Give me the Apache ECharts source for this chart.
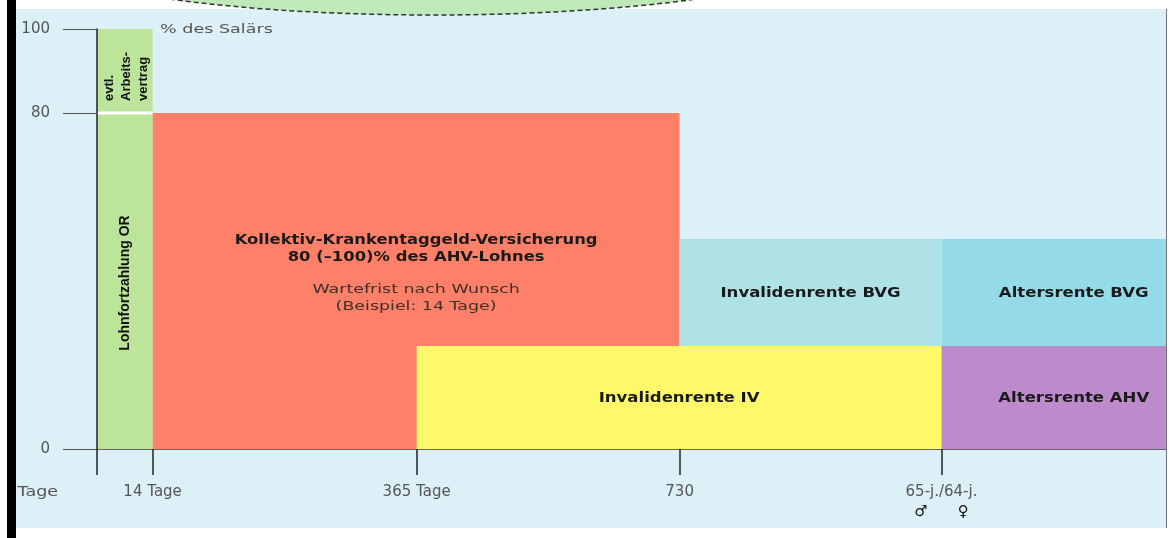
<!DOCTYPE html>
<html><head><meta charset="utf-8">
<script src="https://cdn.jsdelivr.net/npm/echarts@6/dist/echarts.min.js"></script>
<style>
html,body{margin:0;padding:0;background:#fff;}
#wrap{position:relative;width:1169px;height:538px;overflow:hidden;}
#panel{position:absolute;left:16px;top:9px;width:1150px;height:519px;background:#dcf1f7;border-right:1px solid #777;}
#stripe{position:absolute;left:7px;top:0;width:9px;height:538px;background:#000;}
#chart{position:absolute;left:0;top:0;width:1169px;height:538px;}
</style></head><body>
<div id="wrap"><div id="panel"></div><div id="stripe"></div><div id="chart"></div></div>
<script>
// schematic time line (0 = start, 100 = right end of the diagram)
const xTickLabels = ['Tage', '14 Tage', '365 Tage', '730', '65-j./64-j.'];
const xTickValues = [0, 5.2, 29.9, 54.5, 79.0];
const xMax = 100;
// % des Salärs
const yTickValues = [0, 80, 100];

const blockNames = [
  'evtl.\nArbeits-\nvertrag',
  'Lohnfortzahlung OR',
  'Kollektiv-Krankentaggeld-Versicherung\n80 (–100)% des AHV-Lohnes',
  'Invalidenrente IV',
  'Invalidenrente BVG',
  'Altersrente BVG',
  'Altersrente AHV'
];
const blockNotes = ['', '', 'Wartefrist nach Wunsch\n(Beispiel: 14 Tage)', '', '', '', ''];
const blockFrom = [0, 0, 5.2, 29.9, 54.5, 79.0, 79.0];
const blockTo   = [5.2, 5.2, 54.5, 79.0, 79.0, 100, 100];
const blockLow  = [80, 0, 0, 0, 24.5, 24.5, 0];
const blockHigh = [100, 80, 80, 24.5, 50, 50, 24.5];

const blockColors = ['#bde49b', '#bde49b', '#fe8068', '#fff96a', '#aee2e7', '#95dae7', '#bd8bcb'];
const LABEL_FONT = '"DejaVu Sans", "Liberation Sans", sans-serif';
const NARROW_FONT = '"Liberation Sans Narrow", "Liberation Sans", sans-serif';

const data = blockNames.map((n, i) => [blockFrom[i], blockTo[i], blockLow[i], blockHigh[i]]);

const chart = echarts.init(document.getElementById('chart'), null, {renderer: 'canvas'});

function renderItem(params, api) {
  const i = params.dataIndex;
  const tl = api.coord([api.value(0), api.value(3)]);
  const br = api.coord([api.value(1), api.value(2)]);
  const w = br[0] - tl[0], h = br[1] - tl[1];
  const cx = tl[0] + w / 2, cy = tl[1] + h / 2;
  const children = [{type: 'rect', shape: {x: tl[0], y: tl[1], width: w, height: h}, style: {fill: blockColors[i]}}];
  const name = blockNames[i];
  if (i === 0) {
    children.push({type: 'rect', shape: {x: tl[0], y: br[1] - 1.5, width: w, height: 3}, style: {fill: '#ffffff'}, z2: 5});
    children.push({type: 'text', x: cx + 2, y: br[1] - 12, rotation: Math.PI / 2,
      style: {text: name, font: 'bold 13px ' + NARROW_FONT, fill: '#111', textAlign: 'left', textVerticalAlign: 'middle', lineHeight: 17}, z2: 10});
  } else if (i === 1) {
    children.push({type: 'text', x: cx, y: cy + 2, rotation: Math.PI / 2,
      style: {text: name, font: 'bold 14px ' + NARROW_FONT, fill: '#111', textAlign: 'center', textVerticalAlign: 'middle'}, z2: 10});
  } else if (i === 2) {
    children.push({type: 'text', x: cx, y: cy - 32.5, scaleX: 1.17,
      style: {text: name, font: 'bold 14px ' + LABEL_FONT, fill: '#1a1a1a', textAlign: 'center', textVerticalAlign: 'middle', lineHeight: 17}, z2: 10});
    children.push({type: 'text', x: cx, y: cy + 17.5, scaleX: 1.34,
      style: {text: blockNotes[i], font: '13px ' + LABEL_FONT, fill: '#3d2f2a', textAlign: 'center', textVerticalAlign: 'middle', lineHeight: 17}, z2: 10});
  } else {
    const dx = (i === 5 || i === 6) ? 20 : 0;
    children.push({type: 'text', x: cx + dx, y: cy + 1, scaleX: 1.18,
      style: {text: name, font: 'bold 14px ' + LABEL_FONT, fill: '#1a1a1a', textAlign: 'center', textVerticalAlign: 'middle'}, z2: 10});
  }
  return {type: 'group', children};
}

function nearestIndex(v) {
  let best = 0;
  xTickValues.forEach((t, k) => { if (Math.abs(t - v) < Math.abs(xTickValues[best] - v)) best = k; });
  return best;
}

chart.setOption({
  animation: false,
  backgroundColor: 'transparent',
  grid: {left: 97, right: 3, top: 29, bottom: 89, containLabel: false},
  xAxis: {
    type: 'value', min: 0, max: xMax, z: 5,
    axisLine: {show: true, lineStyle: {color: '#666', width: 1}},
    axisTick: {show: true, customValues: xTickValues, length: 26, lineStyle: {color: '#222', width: 1.5}},
    axisLabel: {
      customValues: xTickValues.slice(1),
      margin: 34, color: '#555', fontSize: 15, fontFamily: LABEL_FONT, lineHeight: 18,
      formatter: v => {
        const k = nearestIndex(v);
        if (k === 4) return xTickLabels[k] + '\n{sym|♂}{gap| }{sym|♀}';
        return xTickLabels[k];
      },
      rich: {
        sym: {fontSize: 15, color: '#111', lineHeight: 22, fontFamily: LABEL_FONT},
        gap: {width: 30, lineHeight: 22}
      }
    },
    splitLine: {show: false}
  },
  yAxis: {
    type: 'value', min: 0, max: 100, z: 5,
    axisLine: {show: true, lineStyle: {color: '#222', width: 1.5}},
    axisTick: {show: true, customValues: yTickValues, length: 34, lineStyle: {color: '#555', width: 1}},
    axisLabel: {customValues: yTickValues, margin: 47, color: '#555', fontSize: 15, fontFamily: LABEL_FONT},
    splitLine: {show: false}
  },
  series: [{
    type: 'custom',
    renderItem: renderItem,
    encode: {x: [0, 1], y: [2, 3]},
    data: data,
    z: 2,
    silent: true
  }],
  graphic: [
    {type: 'ellipse', shape: {cx: 433, cy: -60, rx: 427, ry: 75},
      style: {fill: '#bfe9b9', stroke: '#333', lineWidth: 1.5, lineDash: [5, 3]}, z: 100},
    {type: 'text', x: 160, y: 30, scaleX: 1.35, style: {text: '% des Salärs', font: '13px ' + LABEL_FONT, fill: '#555', textVerticalAlign: 'middle'}, z: 100},
    {type: 'text', x: 58, y: 492, scaleX: 1.25, style: {text: xTickLabels[0], font: '14px ' + LABEL_FONT, fill: '#555', textAlign: 'right', textVerticalAlign: 'middle'}, z: 100}
  ]
});
</script>
</body></html>
